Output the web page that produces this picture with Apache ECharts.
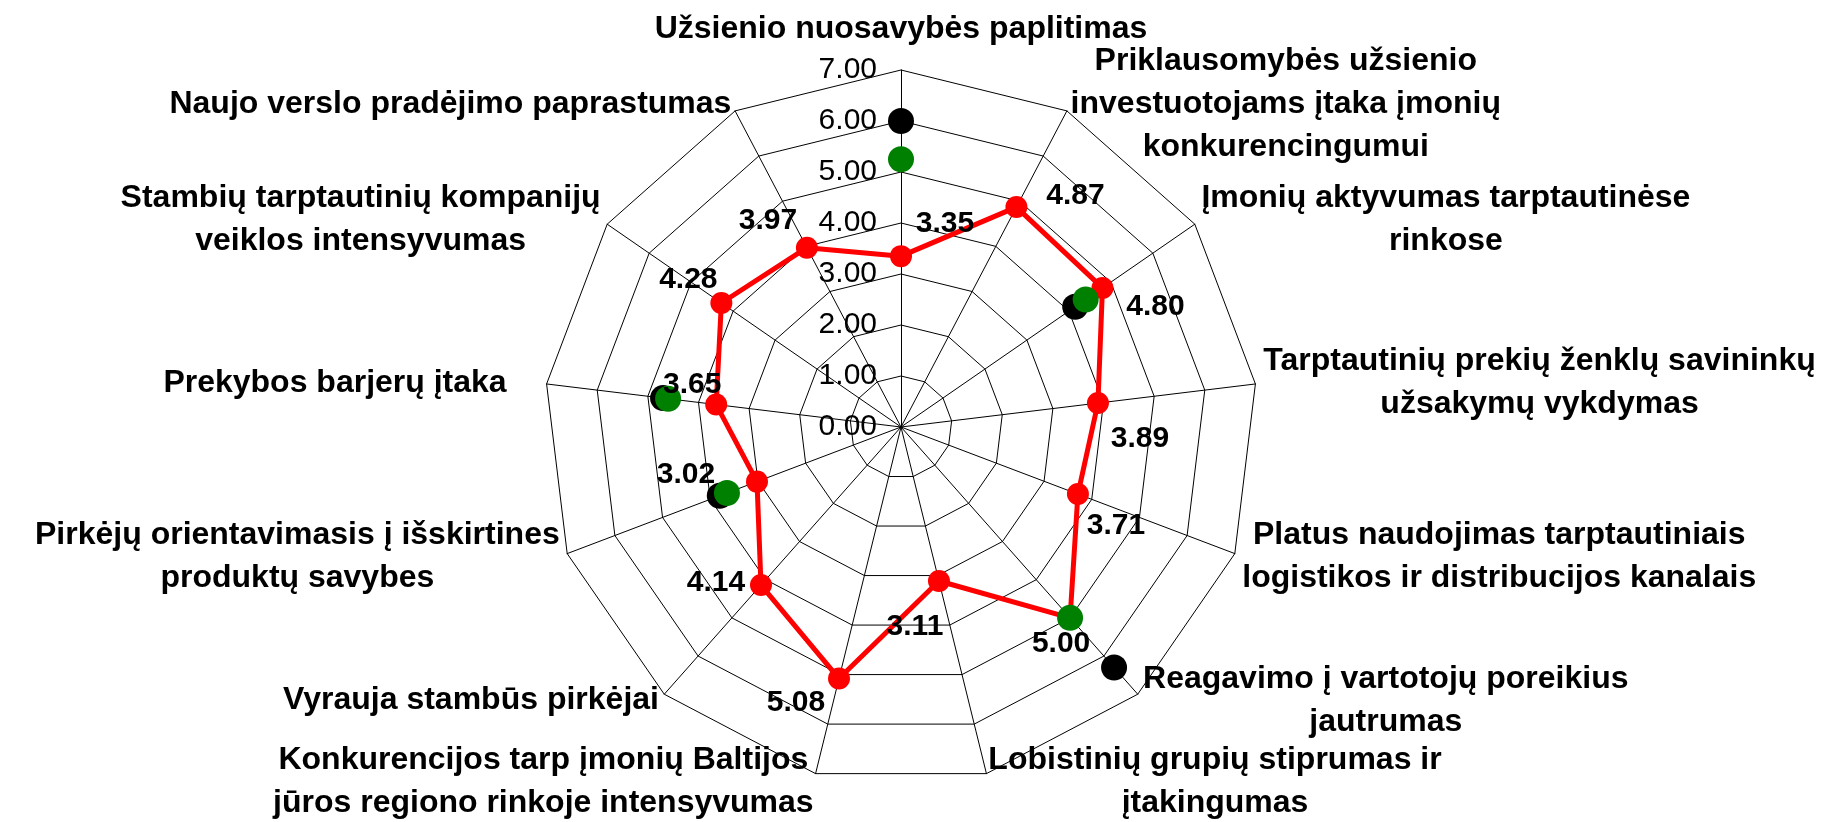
<!DOCTYPE html>
<html>
<head>
<meta charset="utf-8">
<title>Radar</title>
<script src="https://cdn.jsdelivr.net/npm/echarts@6/dist/echarts.min.js"></script>
<style>
html, body { margin: 0; padding: 0; background: #fff; }
#main { width: 1848px; height: 822px; }
</style>
</head>
<body>
<div id="main"></div>
<script>
/*
* radar chart
* */
var categories = [
    'Užsienio nuosavybės paplitimas',
    'Priklausomybės užsienio\ninvestuotojams įtaka įmonių\nkonkurencingumui',
    'Įmonių aktyvumas tarptautinėse\nrinkose',
    'Tarptautinių prekių ženklų savininkų\nužsakymų vykdymas',
    'Platus naudojimas tarptautiniais\nlogistikos ir distribucijos kanalais',
    'Reagavimo į vartotojų poreikius\njautrumas',
    'Lobistinių grupių stiprumas ir\nįtakingumas',
    'Konkurencijos tarp įmonių Baltijos\njūros regiono rinkoje intensyvumas',
    'Vyrauja stambūs pirkėjai',
    'Pirkėjų orientavimasis į išskirtines\nproduktų savybes',
    'Prekybos barjerų įtaka',
    'Stambių tarptautinių kompanijų\nveiklos intensyvumas',
    'Naujo verslo pradėjimo paprastumas'
]
var redValues = [3.35, 4.87, 4.80, 3.89, 3.71, 5.00, 3.11, 5.08, 4.14, 3.02, 3.65, 4.28, 3.97]
var blackValues = [6.00, null, 4.15, null, null, 6.30, null, null, null, 3.80, 4.70, null, null]
var greenValues = [5.25, null, 4.40, null, null, 5.00, null, null, null, 3.65, 4.60, null, null]
var tickLabels = ['0.00', '1.00', '2.00', '3.00', '4.00', '5.00', '6.00', '7.00']
var axisMax = 7

// where each value label sits next to its point
var valueLabelOffsets = [[44, -32], [59, -11], [53, 19], [42, 36], [38, 32], [-9, 26], [-24, 46],
    [-43, 24], [-45, -2], [-71, -7], [-24, -20], [-33, -23], [-39, -27]]

var center = [901, 427]
var radius = 357
var nameFont = "'Liberation Sans', Arial, sans-serif"
var numFont = "'Liberation Sans', Arial, sans-serif"

// radar lays indicators out counter-clockwise, the chart goes clockwise
var order = [0]
for (var i = categories.length - 1; i > 0; i--) order.push(i)

function pointsOf(values) {
    var out = []
    values.forEach(function (v, i) {
        if (v !== null) out.push([v, i])
    })
    return out
}

var nameStyle = {
    align: 'center',
    fontFamily: nameFont,
    fontWeight: 'bold',
    fontSize: 32,
    lineHeight: 43,
    color: '#000'
}

var option = {
    backgroundColor: '#fff',
    animation: false,
    radar: {
        center: center,
        radius: radius,
        startAngle: 90,
        splitNumber: axisMax,
        shape: 'polygon',
        nameGap: 8,
        indicator: order.map(function (i) {
            return { name: categories[i], min: 0, max: axisMax }
        }),
        axisName: {
            color: '#000',
            formatter: function (name) {
                var key = 'c'
                if (name === categories[0]) key = 't'
                if (name === categories[10]) key = 'p'
                return name.split('\n').map(function (s) {
                    return '{' + key + '|' + s + '}'
                }).join('\n')
            },
            rich: {
                c: nameStyle,
                t: Object.assign({}, nameStyle, { padding: [0, 0, 22, 0] }),
                p: Object.assign({}, nameStyle, { padding: [0, 32, 0, 0] })
            }
        },
        axisLine: { lineStyle: { color: '#000', width: 1 } },
        splitLine: { lineStyle: { color: '#000', width: 1 } },
        splitArea: { show: false }
    },
    polar: {
        center: center,
        radius: radius
    },
    angleAxis: {
        type: 'value',
        min: 0,
        max: categories.length,
        startAngle: 90,
        clockwise: true,
        axisLine: { show: false },
        axisTick: { show: false },
        axisLabel: { show: false },
        splitLine: { show: false }
    },
    radiusAxis: {
        type: 'value',
        min: 0,
        max: axisMax,
        interval: 1,
        axisLine: { lineStyle: { color: '#808080', width: 1 } },
        axisTick: { show: false },
        splitLine: { show: false },
        axisLabel: {
            margin: 24,
            color: '#000',
            fontFamily: numFont,
            fontSize: 30,
            formatter: function (v) {
                return tickLabels[Math.round(v)]
            }
        }
    },
    series: [{
            name: 'black',
            type: 'scatter',
            coordinateSystem: 'polar',
            symbol: 'circle',
            symbolSize: 26,
            itemStyle: { color: '#000', opacity: 1 },
            data: pointsOf(blackValues)
        }, {
            name: 'red',
            type: 'radar',
            symbol: 'circle',
            symbolSize: 22,
            lineStyle: { color: '#ff0000', width: 5 },
            itemStyle: { color: '#ff0000' },
            data: [{ value: order.map(function (i) { return redValues[i] }) }]
        }, {
            name: 'green',
            type: 'scatter',
            coordinateSystem: 'polar',
            symbol: 'circle',
            symbolSize: 26,
            itemStyle: { color: '#008000', opacity: 1 },
            data: pointsOf(greenValues)
        }, {
            name: 'values',
            type: 'scatter',
            coordinateSystem: 'polar',
            symbol: 'circle',
            symbolSize: 1,
            silent: true,
            itemStyle: { color: 'transparent', opacity: 1 },
            label: {
                show: true,
                position: 'inside',
                color: '#000',
                opacity: 1,
                fontFamily: numFont,
                fontWeight: 'bold',
                fontSize: 30,
                formatter: function (p) {
                    return redValues[p.dataIndex].toFixed(2)
                }
            },
            data: redValues.map(function (v, i) {
                return { value: [v, i], label: { offset: valueLabelOffsets[i] } }
            })
        }
    ]
}

var chart = echarts.init(document.getElementById('main'))
chart.setOption(option)
</script>
</body>
</html>
